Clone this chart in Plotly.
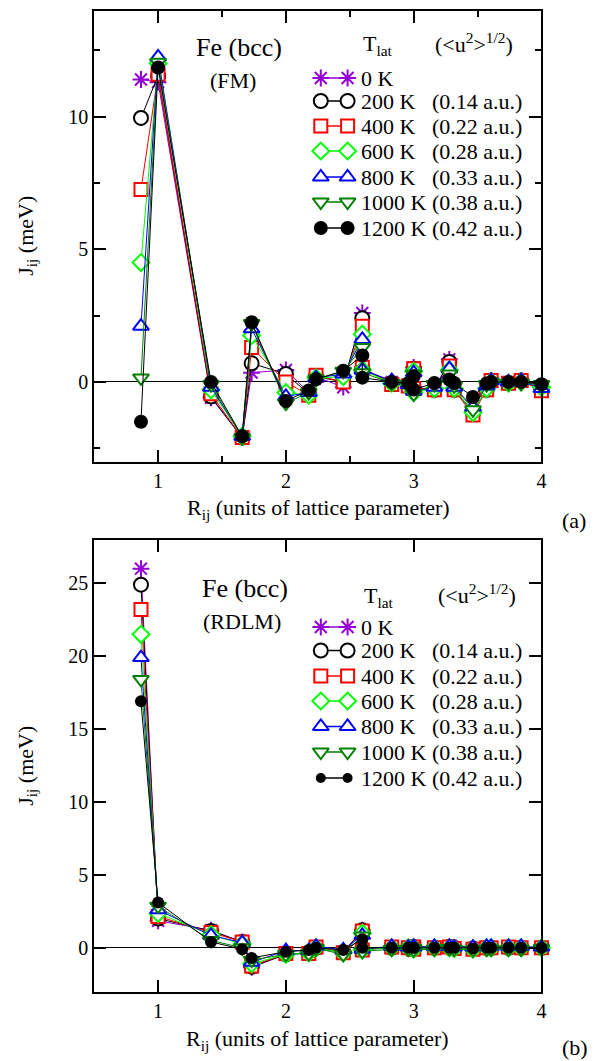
import plotly.graph_objects as go

# ---------------- data ----------------
R = [0.866, 1.0, 1.414, 1.658, 1.732, 2.0, 2.179, 2.236, 2.449, 2.598, 2.598, 2.828,
     2.958, 3.0, 3.0, 3.162, 3.279, 3.317, 3.464, 3.571, 3.606, 3.742, 3.841, 4.0]

temps = ["0 K", "200 K", "400 K", "600 K", "800 K", "1000 K", "1200 K"]
disp = ["", "(0.14 a.u.)", "(0.22 a.u.)", "(0.28 a.u.)", "(0.33 a.u.)", "(0.38 a.u.)", "(0.42 a.u.)"]

# (a) FM
fm_0 = [11.4, 11.3, -0.6, -2.1, 0.35, 0.45, -0.4, 0.2, -0.2, 2.6, 0.5, 0.0, -0.1, 0.55, -0.2, -0.3, 0.85, -0.3, -1.1, -0.3, 0.05, -0.05, 0.05, -0.25]
fm_200 = [9.95, 11.55, -0.55, -2.1, 0.7, 0.3, -0.45, 0.2, 0.0, 2.4, 0.5, -0.05, -0.1, 0.5, -0.25, -0.3, 0.75, -0.3, -1.15, -0.3, 0.05, -0.05, 0.05, -0.3]
fm_400 = [7.25, 11.6, -0.45, -2.1, 1.3, 0.0, -0.5, 0.25, 0.0, 2.1, 0.55, -0.1, -0.15, 0.5, -0.25, -0.3, 0.6, -0.3, -1.25, -0.3, 0.05, -0.05, 0.05, -0.33]
fm_600 = [4.5, 12.0, -0.3, -2.05, 1.75, -0.4, -0.5, 0.15, 0.2, 1.8, 0.45, -0.05, -0.1, 0.4, -0.4, -0.25, 0.45, -0.25, -1.15, -0.25, 0.0, -0.05, 0.0, -0.2]
fm_800 = [2.1, 12.25, -0.2, -2.05, 2.0, -0.55, -0.4, 0.15, 0.3, 1.6, 0.45, 0.05, -0.1, 0.35, -0.35, -0.2, 0.5, -0.2, -0.95, -0.15, 0.05, 0.0, 0.05, -0.25]
fm_1000 = [0.15, 12.05, -0.1, -2.1, 2.2, -0.8, -0.4, 0.1, 0.4, 1.3, 0.35, -0.05, -0.1, 0.3, -0.45, -0.1, 0.3, -0.15, -1.05, -0.1, 0.0, -0.05, -0.05, -0.1]
fm_1200 = [-1.5, 11.85, 0.0, -2.05, 2.25, -0.72, -0.32, 0.1, 0.42, 1.0, 0.16, 0.0, -0.06, 0.21, -0.29, -0.04, 0.09, -0.04, -0.57, -0.06, 0.0, 0.0, 0.0, -0.09]

# (b) RDLM
rd_0 = [26.0, 1.85, 1.2, 0.4, -1.35, -0.45, -0.35, -0.05, -0.3, 1.2, -0.1, 0.0, 0.0, 0.05, -0.05, 0.0, 0.05, 0.0, -0.05, 0.0, 0.0, 0.0, 0.0, 0.0]
rd_200 = [24.9, 2.0, 1.15, 0.4, -1.3, -0.45, -0.35, 0.0, -0.3, 1.2, -0.1, 0.0, 0.0, 0.05, -0.05, 0.0, 0.05, 0.0, -0.05, 0.0, 0.0, 0.0, 0.0, 0.0]
rd_400 = [23.2, 2.15, 1.05, 0.4, -1.25, -0.4, -0.4, 0.05, -0.35, 1.15, -0.15, 0.05, 0.0, 0.05, -0.1, 0.0, 0.05, -0.05, -0.1, 0.0, 0.0, 0.05, 0.0, 0.0]
rd_600 = [21.5, 2.35, 0.9, 0.25, -1.1, -0.45, -0.35, 0.0, -0.35, 1.0, -0.15, 0.0, 0.0, 0.0, -0.1, 0.0, 0.0, -0.05, -0.1, 0.0, 0.0, 0.0, 0.0, 0.0]
rd_800 = [19.9, 2.6, 0.85, 0.35, -1.0, -0.2, -0.2, 0.1, -0.15, 0.85, -0.1, 0.1, 0.05, 0.1, 0.05, 0.1, 0.1, 0.05, 0.05, 0.1, 0.1, 0.1, 0.1, 0.05]
rd_1000 = [18.4, 2.85, 0.5, 0.0, -0.85, -0.45, -0.4, -0.05, -0.45, 0.8, -0.25, -0.1, -0.1, -0.05, -0.15, -0.1, -0.05, -0.1, -0.15, -0.1, -0.1, -0.1, -0.1, -0.05]
rd_1200 = [16.9, 3.1, 0.4, -0.1, -0.7, -0.27, -0.16, 0.0, -0.16, 0.58, 0.0, 0.0, 0.0, 0.0, 0.0, 0.0, 0.0, 0.0, -0.05, 0.0, 0.0, 0.0, 0.0, 0.0]

fm_series = [fm_0, fm_200, fm_400, fm_600, fm_800, fm_1000, fm_1200]
rd_series = [rd_0, rd_200, rd_400, rd_600, rd_800, rd_1000, rd_1200]

# ---------------- styles ----------------
W, H = 602, 1061
FONT = "'Liberation Serif', 'Times New Roman', Times, serif"
colors = ["#9400D3", "black", "red", "#00FF00", "blue", "#008000", "black"]
symbols = ["asterisk-open", "circle", "square", "diamond", "triangle-up", "triangle-down", "circle"]
fills = ["#9400D3", "white", "white", "white", "white", "white", "black"]
sizes_a = [14, 14, 13, 13, 14, 14, 14]
sizes_b = [14, 14, 13, 13, 14, 14, 12]
leg_sizes_b = [14, 14, 13, 13, 14, 14, 10]

# plot areas in pixels
PL, PR = 95, 546
A_T, A_B = 10.5, 461.5
B_T, B_B = 539.5, 991.5


def mk(i, size):
    if symbols[i] == "asterisk-open":
        return dict(symbol=symbols[i], size=size, color=colors[i],
                    line=dict(color=colors[i], width=2))
    if fills[i] == "black":
        return dict(symbol=symbols[i], size=size, color="black", line=dict(width=0))
    return dict(symbol=symbols[i], size=size, color="white",
                line=dict(color=colors[i], width=2))


fig = go.Figure()

for i, ys in enumerate(fm_series):
    fig.add_trace(go.Scatter(x=R, y=ys, mode="lines+markers", xaxis="x", yaxis="y",
                             line=dict(color=colors[i], width=1), marker=mk(i, sizes_a[i]),
                             cliponaxis=False, showlegend=False))
for i, ys in enumerate(rd_series):
    fig.add_trace(go.Scatter(x=R, y=ys, mode="lines+markers", xaxis="x2", yaxis="y2",
                             line=dict(color=colors[i], width=1), marker=mk(i, sizes_b[i]),
                             cliponaxis=False, showlegend=False))

# legend glyphs on a pixel overlay axis
leg_rows_a = [78, 101, 126, 151, 177, 202, 228]
leg_rows_b = [627, 650.5, 676, 701, 726.5, 752, 778]
mx = [323.5, 350.5]
for rows, szs in ((leg_rows_a, sizes_a), (leg_rows_b, leg_sizes_b)):
    for i, yy in enumerate(rows):
        fig.add_trace(go.Scatter(x=mx, y=[yy, yy], mode="lines+markers", xaxis="x3", yaxis="y3",
                                 line=dict(color=colors[i], width=1.5), marker=mk(i, szs[i]),
                                 cliponaxis=False, showlegend=False))

ann = []


def txt(x, y, s, size=22, xanchor="left", angle=0):
    ann.append(dict(x=x, y=y, xref="x3", yref="y3", text=s, showarrow=False,
                    xanchor=xanchor, yanchor="middle", textangle=angle,
                    font=dict(family=FONT, size=size, color="black")))


for rows in (leg_rows_a, leg_rows_b):
    for i, yy in enumerate(rows):
        txt(362, yy, temps[i])
        if disp[i]:
            txt(434, yy, disp[i])

# (a) texts
txt(240.5, 47, "Fe (bcc)", size=26, xanchor="center")
txt(234.5, 80, "(FM)", size=22, xanchor="center")
txt(364, 45, "T<sub>lat</sub>", size=22)
txt(437, 43, "(&lt;u<sup>2</sup>&gt;<sup>1/2</sup>)", size=22)
txt(321, 509, "R<sub>ij</sub> (units of lattice parameter)", size=22, xanchor="center")
txt(27, 236, "J<sub>ij</sub> (meV)", size=22, xanchor="center", angle=-90)
txt(579, 520, "(a)", size=22, xanchor="center")

# (b) texts
txt(247, 588, "Fe (bcc)", size=26, xanchor="center")
txt(244, 621, "(RDLM)", size=22, xanchor="center")
txt(365, 597, "T<sub>lat</sub>", size=22)
txt(440, 594, "(&lt;u<sup>2</sup>&gt;<sup>1/2</sup>)", size=22)
txt(320, 1040, "R<sub>ij</sub> (units of lattice parameter)", size=22, xanchor="center")
txt(27, 766, "J<sub>ij</sub> (meV)", size=22, xanchor="center", angle=-90)
txt(580, 1047, "(b)", size=22, xanchor="center")

axis_common = dict(showline=True, linecolor="black", linewidth=2, mirror="ticks",
                   ticks="inside", ticklen=12, tickwidth=2, tickcolor="black",
                   showgrid=False, zeroline=False,
                   tickfont=dict(family=FONT, size=20, color="black"))

xdom = [PL / W, PR / W]
fig.update_layout(
    width=W, height=H, margin=dict(l=0, r=0, t=0, b=0),
    paper_bgcolor="white", plot_bgcolor="rgba(0,0,0,0)",
    font=dict(family=FONT, color="black"),
    annotations=ann,
    xaxis=dict(domain=xdom, anchor="y", range=[0.5, 4], tickvals=[1, 2, 3, 4],
               minor=dict(tickvals=[1.5, 2.5, 3.5], ticklen=6, tickwidth=2, tickcolor="black", ticks="inside"),
               **axis_common),
    yaxis=dict(domain=[1 - A_B / H, 1 - A_T / H], anchor="x", range=[-3, 14], tickvals=[0, 5, 10],
               minor=dict(tickvals=[-2.5, 2.5, 7.5, 12.5], ticklen=6, tickwidth=2, tickcolor="black", ticks="inside"),
               **{**axis_common, "zeroline": True}, zerolinecolor="black", zerolinewidth=1),
    xaxis2=dict(domain=xdom, anchor="y2", range=[0.5, 4], tickvals=[1, 2, 3, 4], **axis_common),
    yaxis2=dict(domain=[1 - B_B / H, 1 - B_T / H], anchor="x2", range=[-3, 28],
                tickvals=[0, 5, 10, 15, 20, 25],
                **{**axis_common, "zeroline": True}, zerolinecolor="black", zerolinewidth=1),
    xaxis3=dict(domain=[0, 1], anchor="y3", range=[0, W], visible=False, fixedrange=True),
    yaxis3=dict(domain=[0, 1], anchor="x3", range=[H, 0], visible=False, fixedrange=True),
)

fig.write_html("out.html", config={"displayModeBar": False},
               post_script="document.body.style.margin='0px';document.body.style.padding='0px';")
